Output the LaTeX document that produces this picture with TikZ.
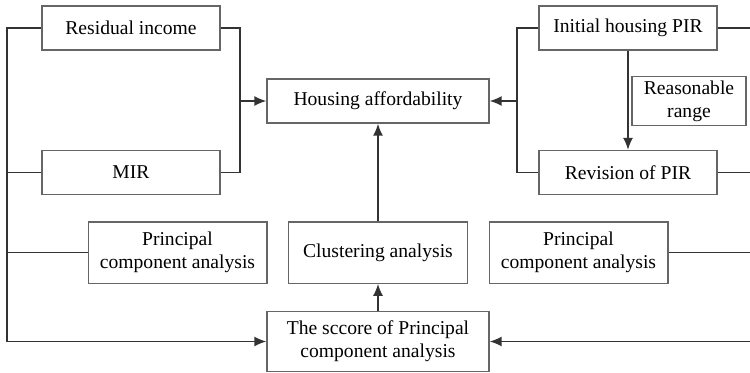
\documentclass[tikz,border=0pt]{standalone}
\usepackage{fontspec}
\setmainfont{Liberation Serif}
\newfontfamily\boxfont{Liberation Serif}
\usepackage{tikz}
\usetikzlibrary{positioning}
\usetikzlibrary{shapes.geometric, arrows, arrows.meta}
\tikzstyle{basic} = [rectangle, minimum width=133.5pt, minimum height=33pt, text centered, align=center, draw=black!60, line width=1pt, font=\boxfont\fontsize{14.7}{17}\selectfont]
\tikzstyle{wide} = [basic, minimum width=166.5pt]
\tikzstyle{short} = [basic, minimum width=85.5pt]
\tikzstyle{tall} = [basic, minimum width=134pt, minimum height=46pt]
\tikzstyle{line} = [draw=black!80, line width=1.2pt]
\tikzstyle{arrow} = [line, -{Latex[length=9pt,width=7.5pt]}]

\begin{document}
\begin{tikzpicture}[x=0.75pt, y=-0.75pt]
	\useasboundingbox (0,0) rectangle (750,372);

	\node (resid) [basic] at (131,28) {Residual income};
	\node (mir) [basic] at (131,172.5) {MIR};
	\node (afford) [wide] at (378,101) {Housing affordability};
	\node (initpir) [basic] at (628,28) {Initial housing PIR};
	\node (revpir) [basic] at (628,172.5) {Revision of PIR};
	\node (range) [short] at (689,101) {Reasonable\\range};
	\node (pcaleft) [tall] at (177.5,252.5) {Principal\\component analysis};
	\node (cluster) [tall] at (378,252.5) {Clustering analysis};
	\node (pcaright) [tall] at (578.5,252.5) {Principal\\component analysis};
	\node (score) [wide, minimum height=45pt] at (378,341.5) {The sccore of Principal\\component analysis};

	\coordinate (lbus) at (7,0);
	\coordinate (midl) at (240,0);
	\coordinate (midr) at (517,0);
	\coordinate (rbus) at (751,0);

	\draw [arrow] (resid.west) -| (lbus |- score.west) -- (score.west);
	\draw [line] (mir.west) -- (mir.west -| lbus);
	\draw [line] (pcaleft.west) -- (pcaleft.west -| lbus);
	\draw [line] (resid.east) -| (midl |- mir.east) -- (mir.east);
	\draw [arrow] (midl |- afford.west) -- (afford.west);

	\draw [line] (initpir.west) -| (midr |- revpir.west) -- (revpir.west);
	\draw [arrow] (midr |- afford.east) -- (afford.east);
	\draw [arrow] (initpir) -- (revpir);

	\draw [line] (initpir.east) -- (initpir.east -| rbus);
	\draw [line] (revpir.east) -- (revpir.east -| rbus);
	\draw [line] (pcaright.east) -- (pcaright.east -| rbus);
	\draw [arrow] (rbus |- score.east) -- (score.east);

	\draw [arrow] (score) -- (cluster);
	\draw [arrow] (cluster) -- (afford);

\end{tikzpicture}
\end{document}
